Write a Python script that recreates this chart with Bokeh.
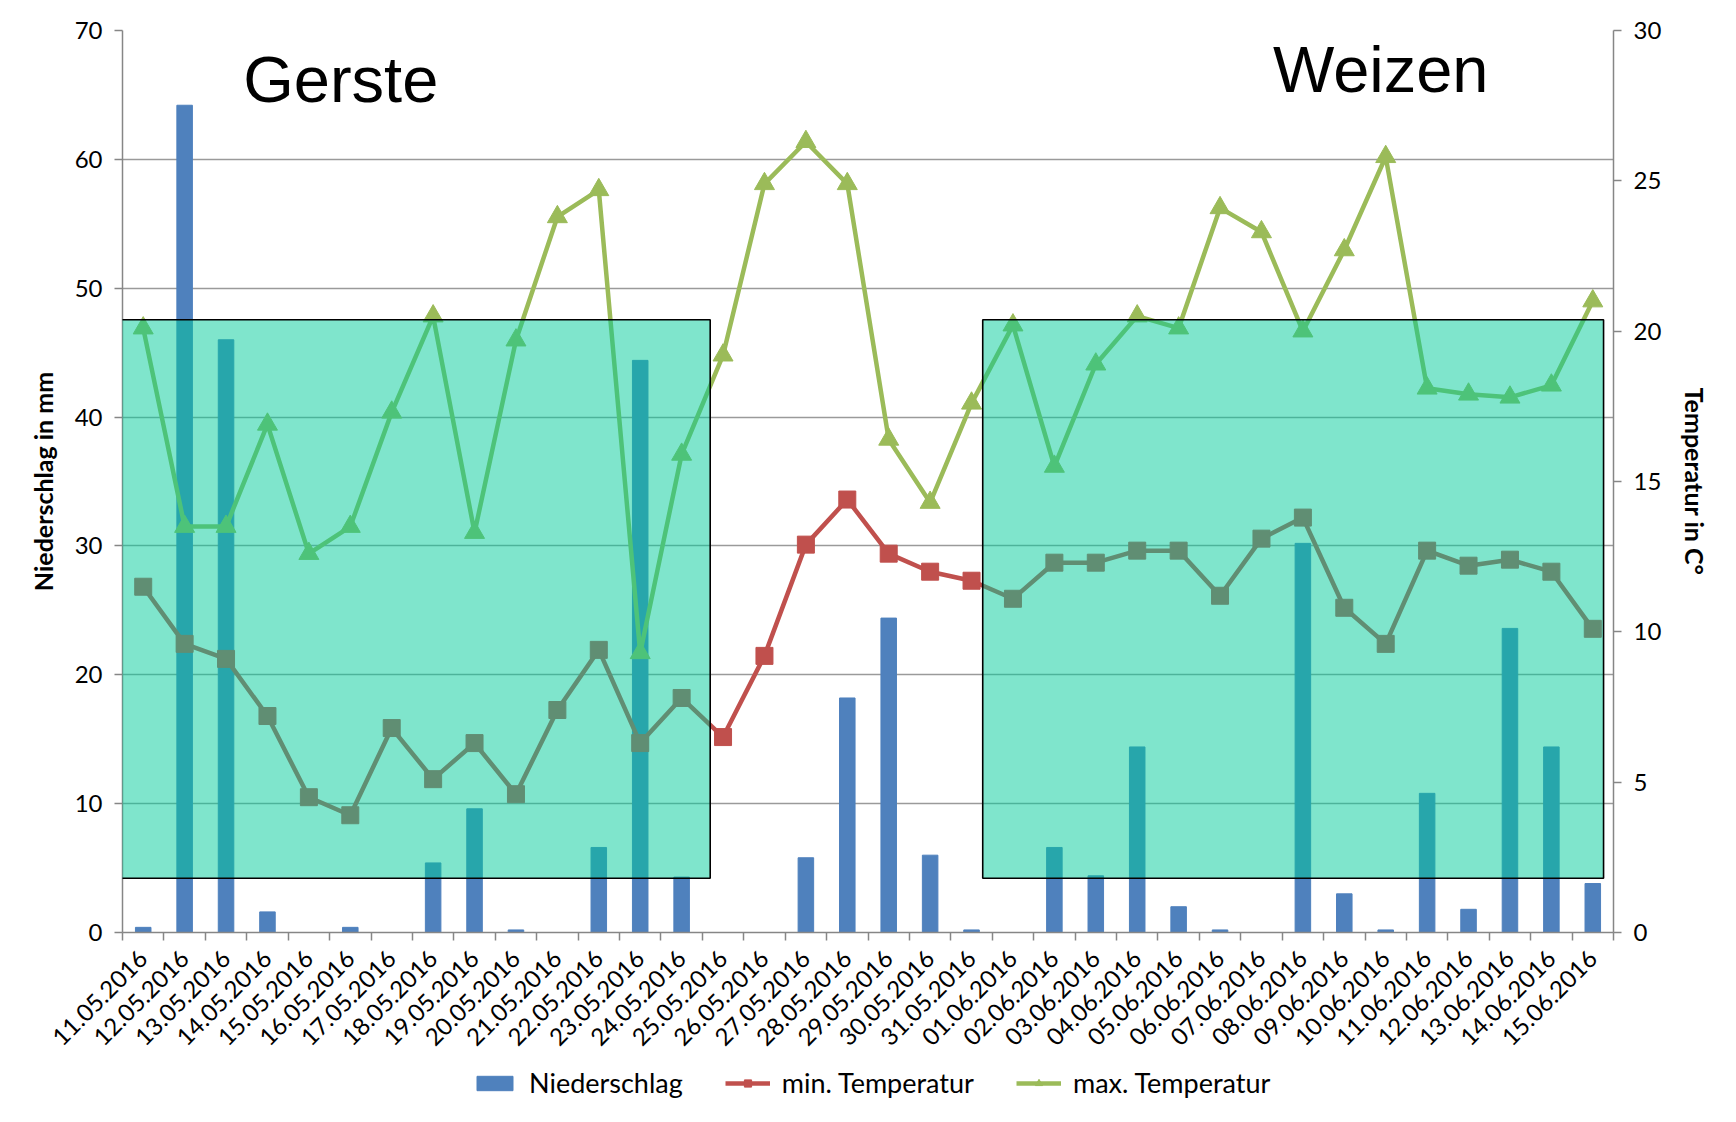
import numpy as np
from bokeh.plotting import figure
from bokeh.layouts import column
from bokeh.models import Range1d, LinearAxis, FixedTicker, BoxAnnotation, Label, ColumnDataSource
from bokeh.embed import file_html
from bokeh.resources import INLINE

# ---------------- data ----------------
dates = ["11.05.2016", "12.05.2016", "13.05.2016", "14.05.2016", "15.05.2016", "16.05.2016",
         "17.05.2016", "18.05.2016", "19.05.2016", "20.05.2016", "21.05.2016", "22.05.2016",
         "23.05.2016", "24.05.2016", "25.05.2016", "26.05.2016", "27.05.2016", "28.05.2016",
         "29.05.2016", "30.05.2016", "31.05.2016", "01.06.2016", "02.06.2016", "03.06.2016",
         "04.06.2016", "05.06.2016", "06.06.2016", "07.06.2016", "08.06.2016", "09.06.2016",
         "10.06.2016", "11.06.2016", "12.06.2016", "13.06.2016", "14.06.2016", "15.06.2016"]

niederschlag = [0.4, 64.2, 46.0, 1.6, 0.0, 0.4, 0.0, 5.4, 9.6, 0.2, 0.0, 6.6,
                44.4, 4.3, 0.0, 0.0, 5.8, 18.2, 24.4, 6.0, 0.2, 0.0, 6.6, 4.4,
                14.4, 2.0, 0.2, 0.0, 30.2, 3.0, 0.2, 10.8, 1.8, 23.6, 14.4, 3.8]

min_temp = [11.5, 9.6, 9.1, 7.2, 4.5, 3.9, 6.8, 5.1, 6.3, 4.6, 7.4, 9.4,
            6.3, 7.8, 6.5, 9.2, 12.9, 14.4, 12.6, 12.0, 11.7, 11.1, 12.3, 12.3,
            12.7, 12.7, 11.2, 13.1, 13.8, 10.8, 9.6, 12.7, 12.2, 12.4, 12.0, 10.1]

max_temp = [20.1, 13.5, 13.5, 16.9, 12.6, 13.5, 17.3, 20.5, 13.3, 19.7, 23.8, 24.7,
            9.3, 15.9, 19.2, 24.9, 26.3, 24.9, 16.4, 14.3, 17.6, 20.2, 15.5, 18.9,
            20.5, 20.1, 24.1, 23.3, 20.0, 22.7, 25.8, 18.1, 17.9, 17.8, 18.2, 21.0]

left_ticks = [0, 10, 20, 30, 40, 50, 60, 70]
right_ticks = [0, 5, 10, 15, 20, 25, 30]

# ---------------- layout constants ----------------
W = 1736
H_MAIN = 1062
H_LEG = 60
FONT = "Lato"
BAR_C, MIN_C, MAX_C = "#4F81BD", "#C0504D", "#9BBB59"
pos = [i + 0.5 for i in range(len(dates))]

src = ColumnDataSource(dict(x=pos, rain=niederschlag, tmin=min_temp, tmax=max_temp))

p = figure(width=W, height=H_MAIN, output_backend="svg", toolbar_location=None,
           x_range=Range1d(0, len(dates)), y_range=Range1d(0, 70),
           min_border_left=122, min_border_right=123, min_border_top=30,
           min_border_bottom=H_MAIN - 932,
           background_fill_color="white", border_fill_color="white")
p.extra_y_ranges = {"temp": Range1d(0, 30)}
p.outline_line_alpha = 0

# bars
p.vbar(x="x", top="rain", width=0.375, source=src, fill_color=BAR_C, line_color=BAR_C)

# min temp
p.line(x="x", y="tmin", source=src, y_range_name="temp", line_color=MIN_C, line_width=4.5)
p.scatter(x="x", y="tmin", source=src, y_range_name="temp", marker="square", size=17,
          fill_color=MIN_C, line_color=MIN_C)

# max temp
p.line(x="x", y="tmax", source=src, y_range_name="temp", line_color=MAX_C, line_width=4.5)
p.scatter(x="x", y="tmax", source=src, y_range_name="temp", marker="triangle", size=20,
          fill_color=MAX_C, line_color=MAX_C)

# overlay boxes
for l, r in [(-0.05, 14.19), (20.77, 35.76)]:
    p.add_layout(BoxAnnotation(left=l, right=r, bottom=4.21, top=47.55,
                               fill_color="#00CC99", fill_alpha=0.5,
                               line_color="black", line_width=1.6, line_alpha=1))

p.add_layout(Label(x=5.27, y=66.2, text="Gerste", text_align="center",
                   text_baseline="alphabetic", text_font="Liberation Sans",
                   text_font_size="65px", text_color="black"))
p.add_layout(Label(x=30.38, y=67.0, text="Weizen", text_align="center",
                   text_baseline="alphabetic", text_font="Liberation Sans",
                   text_font_size="65px", text_color="black"))

# axes
axis_color = "#868686"
xa = p.xaxis[0]
xa.ticker = FixedTicker(ticks=pos, minor_ticks=list(range(len(dates) + 1)))
xa.major_label_overrides = {float(x): d for x, d in zip(pos, dates)}
xa.major_label_orientation = np.pi / 4
xa.major_tick_out = 0
xa.major_tick_in = 0
xa.minor_tick_out = 8
xa.minor_tick_in = 0
xa.minor_tick_line_color = axis_color
xa.minor_tick_line_width = 1.5
xa.axis_line_color = axis_color
xa.axis_line_width = 1.5
xa.major_label_text_font = FONT
xa.major_label_text_font_size = "24px"
xa.major_label_text_color = "black"
xa.major_label_standoff = 14

ya = p.yaxis[0]
ya.ticker = FixedTicker(ticks=left_ticks)
ya.axis_label = "Niederschlag in mm"
ya.axis_label_standoff = 14

ra = LinearAxis(y_range_name="temp", ticker=FixedTicker(ticks=right_ticks),
                axis_label="Temperatur in C°")
p.add_layout(ra, "right")
ra.axis_label_standoff = 16

for a in (ya, ra):
    a.axis_label_text_font = FONT
    a.axis_label_text_font_style = "bold"
    a.axis_label_text_font_size = "25px"
    a.axis_label_text_color = "black"
    a.axis_line_color = axis_color
    a.axis_line_width = 1.5
    a.major_tick_line_color = axis_color
    a.major_tick_line_width = 1.5
    a.major_tick_out = 8
    a.major_tick_in = 0
    a.minor_tick_line_alpha = 0
    a.major_label_text_font = FONT
    a.major_label_text_font_size = "24px"
    a.major_label_text_color = "black"
    a.major_label_standoff = 12

p.xgrid.grid_line_alpha = 0
p.ygrid.ticker = FixedTicker(ticks=left_ticks)
p.ygrid.grid_line_color = "#9a9a9a"
p.ygrid.grid_line_width = 1.5

# ---------------- legend strip below the chart ----------------
# same series, drawn with ranges that keep the marks far out of view; only the legend shows
q = figure(width=W, height=H_LEG, output_backend="svg", toolbar_location=None,
           x_range=Range1d(1000, 1001), y_range=Range1d(1000, 1001), min_border=0,
           x_axis_location=None, y_axis_location=None,
           background_fill_color="white", border_fill_color="white")
q.grid.visible = False
q.outline_line_alpha = 0
q.vbar(x="x", top="rain", width=0.375, source=src, fill_color=BAR_C, line_color=BAR_C,
       legend_label="Niederschlag")
q.line(x="x", y="tmin", source=src, line_color=MIN_C, line_width=4.5,
       legend_label="min. Temperatur")
q.scatter(x="x", y="tmin", source=src, marker="square", size=17, fill_color=MIN_C,
          line_color=MIN_C, legend_label="min. Temperatur")
q.line(x="x", y="tmax", source=src, line_color=MAX_C, line_width=4.5,
       legend_label="max. Temperatur")
q.scatter(x="x", y="tmax", source=src, marker="triangle", size=20, fill_color=MAX_C,
          line_color=MAX_C, legend_label="max. Temperatur")

lg = q.legend[0]
lg.orientation = "horizontal"
lg.location = (350, 23)   # frame of this strip is aligned with the chart frame (x = 122)
lg.padding = 0
lg.margin = 0
lg.spacing = 42
lg.glyph_width = 45
lg.glyph_height = 18
lg.label_standoff = 12
lg.label_text_font = FONT
lg.label_text_font_size = "27px"
lg.label_text_color = "black"
lg.border_line_alpha = 0
lg.background_fill_alpha = 0

layout = column(p, q, spacing=0)
open("out.html", "w").write(file_html(layout, INLINE))
